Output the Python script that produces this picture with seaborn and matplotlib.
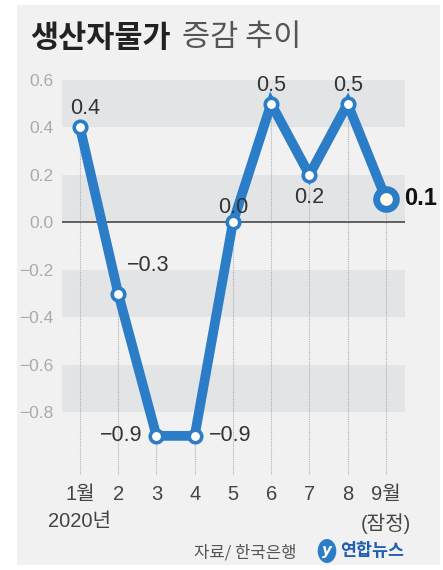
import matplotlib
matplotlib.use("Agg")
import matplotlib.pyplot as plt
from matplotlib import font_manager
from matplotlib.patches import Rectangle, Circle
import seaborn as sns
import pandas as pd

# ---- data ----
months = [1, 2, 3, 4, 5, 6, 7, 8, 9]
tick_labels = ["1월\n2020년", "2", "3", "4", "5", "6", "7", "8", "9월\n(잠정)"]
values = [0.4, -0.3, -0.9, -0.9, 0.0, 0.5, 0.2, 0.5, 0.1]
value_labels = ["0.4", "−0.3", "−0.9", "−0.9", "0.0", "0.5", "0.2", "0.5", "0.1"]
y_ticks = [0.6, 0.4, 0.2, 0.0, -0.2, -0.4, -0.6, -0.8]
y_tick_labels = ["0.6", "0.4", "0.2", "0.0", "−0.2", "−0.4", "−0.6", "−0.8"]
bands = [(0.4, 0.6), (0.0, 0.2), (-0.4, -0.2), (-0.8, -0.6)]
title_bold = "생산자물가"
title_light = "증감 추이"
source = "자료/ 한국은행"
brand = "연합뉴스"

df = pd.DataFrame({"month": months, "value": values})

sns.set_theme(style="white")
avail = {f.name for f in font_manager.fontManager.ttflist}
narrow = "Liberation Sans Narrow" if "Liberation Sans Narrow" in avail else "Liberation Sans"
KR = "Noto Sans CJK KR"
plt.rcParams["font.family"] = [narrow, KR, "DejaVu Sans"]
plt.rcParams["axes.unicode_minus"] = True

W, H = 443, 570
fig = plt.figure(figsize=(W / 100, H / 100), dpi=100)
fig.patch.set_facecolor("white")
# grey panel
fig.patches.append(Rectangle((17 / W, 1 - 565 / H), (440 - 17) / W, (565 - 5) / H,
                             transform=fig.transFigure, facecolor="#f1f1f1",
                             edgecolor="none", zorder=-5))

ax = fig.add_axes([62 / W, 1 - 475 / H, (405 - 62) / W, (475 - 80) / H])
ax.set_facecolor("none")
ax.patch.set_alpha(0)
ax.set_xlim(0.53, 9.5)
ax.set_ylim(-1.065, 0.6)

for lo, hi in bands:
    ax.axhspan(lo, hi, color="#e2e4e6", zorder=0, lw=0)

# vertical dotted guides from each point down
for m, v in zip(months, values):
    ax.plot([m, m], [-1.065, v], color="#b0b0b0", lw=0.8, ls=(0, (1, 1)), zorder=1)

ax.axhline(0, color="#555555", lw=1.3, zorder=2)

blue = "#2a7dc6"
sns.lineplot(data=df, x="month", y="value", ax=ax, color=blue, lw=7,
             marker="o", markersize=9, markerfacecolor="white",
             markeredgecolor=blue, markeredgewidth=2.6, zorder=3,
             solid_joinstyle="miter")
last = df.iloc[[-1]]
sns.scatterplot(data=last, x="month", y="value", ax=ax, s=200, color="#fffbe8",
                edgecolor=blue, linewidth=5, zorder=4)

# value labels placement (offsets in points)
place = [
    (4, 14, "center"),
    (6, 20, "left"),
    (-10, 0, "right"),
    (10, 0, "left"),
    (0, 11, "center"),
    (0, 13, "center"),
    (0, -16, "center"),
    (0, 13, "center"),
    (13, 0, "left"),
]
for i, (m, v, t) in enumerate(zip(months, values, value_labels)):
    dx, dy, ha = place[i]
    last_pt = i == len(months) - 1
    ax.annotate(t, (m, v), xytext=(dx, dy), textcoords="offset points",
                ha=ha, va="center", fontsize=17 if last_pt else 15.5,
                color="#111111" if last_pt else "#333333",
                fontweight="bold" if last_pt else "normal", zorder=5,
                annotation_clip=False)

ax.set_yticks(y_ticks)
ax.set_yticklabels(y_tick_labels)
ax.set_xticks(months)
ax.set_xticklabels(tick_labels)
ax.tick_params(axis="y", length=0, pad=6, labelsize=12.5, labelcolor="#aaaaaa")
ax.tick_params(axis="x", length=0, pad=7, labelsize=14.5, labelcolor="#444444")
for lab in ax.get_xticklabels():
    lab.set_linespacing(1.55)
    lab.set_verticalalignment("top")
ax.set_xlabel("")
ax.set_ylabel("")
sns.despine(ax=ax, left=True, bottom=True)
ax.grid(False)

# title
fig.text(30 / W, 1 - 38 / H, title_bold, fontsize=22, fontweight="bold",
         color="#222222", va="center", ha="left", family=[KR])
fig.text(182 / W, 1 - 38 / H, title_light, fontsize=22, fontweight="light",
         color="#555555", va="center", ha="left", family=[KR])

# source & logo
fig.text(296 / W, 1 - 553 / H, source, fontsize=12, color="#555555",
         ha="right", va="center", family=[KR], style="italic")
fig.patches.append(Circle((327 / W, 1 - 551 / H), 0.021, transform=fig.transFigure,
                          facecolor="#2a7dc6", edgecolor="none", zorder=5))
fig.text(327 / W, 1 - 551 / H, "y", fontsize=11, color="white", fontweight="bold",
         style="italic", ha="center", va="center", family=["DejaVu Sans"], zorder=6)
fig.text(340 / W, 1 - 551 / H, brand, fontsize=12.5, color="#1f5fae",
         fontweight="bold", ha="left", va="center", family=[KR])

fig.savefig("out.png", dpi=100, facecolor="white")
